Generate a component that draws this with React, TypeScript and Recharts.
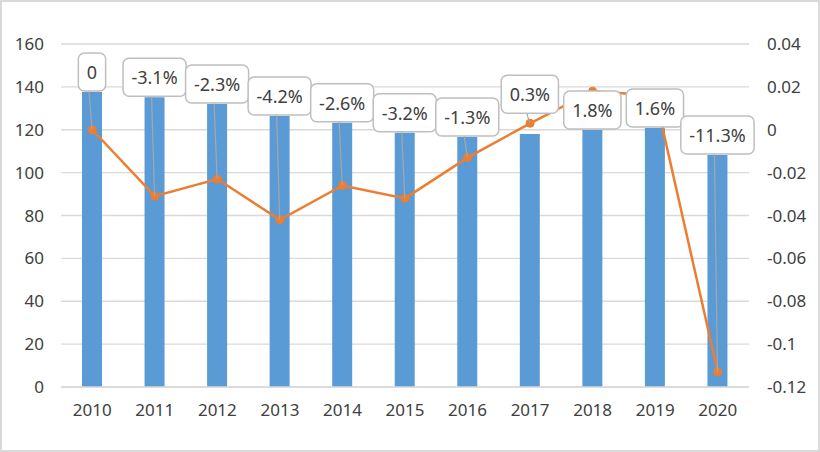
import React from 'react';
import { ComposedChart, Bar, Line, XAxis, YAxis, CartesianGrid, LabelList } from 'recharts';

const years = ['2010', '2011', '2012', '2013', '2014', '2015', '2016', '2017', '2018', '2019', '2020'];
const output = [137.6, 135.2, 132, 126.4, 123.3, 118.6, 116.6, 118, 119.9, 120.8, 108.2];
const growth = [0, -0.031, -0.023, -0.042, -0.026, -0.032, -0.013, 0.003, 0.018, 0.016, -0.113];
const growthLabels = ['0', '-3.1%', '-2.3%', '-4.2%', '-2.6%', '-3.2%', '-1.3%', '0.3%', '1.8%', '1.6%', '-11.3%'];
const leftTicks = [0, 20, 40, 60, 80, 100, 120, 140, 160];
const rightTicks = [-0.12, -0.1, -0.08, -0.06, -0.04, -0.02, 0, 0.02, 0.04];

const LEFT_DOMAIN: [number, number] = [0, 160];
const RIGHT_DOMAIN: [number, number] = [-0.12, 0.04];

const data = years.map((year, i) => ({ year, output: output[i], growth: growth[i] }));

const FONT = 17;
const LABEL_FONT = 18;
const charW: Record<string, number> = { '-': 0.322, '.': 0.268, '%': 0.823 };
const textWidth = (s: string) =>
  s.split('').reduce((acc, c) => acc + (charW[c] ?? 0.572), 0) * LABEL_FONT;

const CalloutLabel = (props: any) => {
  const vb = props.viewBox ?? props;
  const x = Number(vb.x ?? props.x);
  const y = Number(vb.y ?? props.y);
  const width = Number(vb.width ?? props.width);
  const height = Number(vb.height ?? props.height);
  const i = props.index as number;
  if (i == null || isNaN(x)) return null;
  const v = output[i];
  const g = growth[i];
  const H = (height / (v - LEFT_DOMAIN[0])) * (LEFT_DOMAIN[1] - LEFT_DOMAIN[0]);
  const baseline = y + height;
  const top = baseline - H;
  const pointY = top + ((RIGHT_DOMAIN[1] - g) / (RIGHT_DOMAIN[1] - RIGHT_DOMAIN[0])) * H;
  const cx = x + width / 2;
  const label = growthLabels[i];
  const w = textWidth(label) + 17;
  const h = 38;
  let boxBottom = y - 1;
  if (pointY < y && y - pointY < h / 2) boxBottom = pointY - 10;
  const boxTop = boxBottom - h;
  return (
    <g>
      {pointY > boxBottom + 6 && (
        <line x1={cx - 3} y1={boxBottom} x2={cx} y2={pointY} stroke="#A6A6A6" strokeWidth={1.2} />
      )}
      <rect x={cx - w / 2} y={boxTop} width={w} height={h} rx={6} ry={6} fill="#fff" stroke="#BFBFBF" strokeWidth={1.5} />
      <text x={cx} y={boxTop + h / 2} textAnchor="middle" dominantBaseline="central" fontSize={LABEL_FONT} fill="#404040">
        {label}
      </text>
    </g>
  );
};

export default function App() {
  return (
    <div style={{ position: 'absolute', left: 0, top: 0, width: 820, height: 452, background: '#fff', fontFamily: '"Noto Sans", sans-serif' }}>
      <ComposedChart width={820} height={452} data={data} margin={{ top: 44, right: 0, bottom: 35, left: 0 }}>
        <CartesianGrid yAxisId="left" vertical={false} stroke="#D9D9D9" strokeWidth={1.3} />
        <XAxis dataKey="year" interval={0} axisLine={{ stroke: '#D9D9D9', strokeWidth: 1.3 }} tickLine={false} tickSize={0} tickMargin={17} height={30} tick={{ fill: '#404040', fontSize: FONT }} />
        <XAxis xAxisId="lab" dataKey="year" hide />
        <YAxis yAxisId="left" domain={LEFT_DOMAIN} ticks={leftTicks} interval={0} width={61} axisLine={false} tickLine={false} tickSize={0} tickMargin={17} tick={{ fill: '#404040', fontSize: FONT }} />
        <YAxis yAxisId="right" orientation="right" domain={RIGHT_DOMAIN} ticks={rightTicks} interval={0} width={71} axisLine={false} tickLine={false} tickSize={0} tickMargin={18} tick={{ fill: '#404040', fontSize: FONT }} tickFormatter={(v: number) => String(v)} />
        <Bar yAxisId="left" dataKey="output" fill="#5B9BD5" barSize={20} isAnimationActive={false} />
        <Line yAxisId="right" dataKey="growth" stroke="#ED7D31" strokeWidth={2.5} dot={{ r: 4, fill: '#ED7D31', stroke: '#ED7D31', strokeWidth: 1 }} isAnimationActive={false} />
        <Bar xAxisId="lab" yAxisId="left" dataKey="output" fill="none" barSize={20} isAnimationActive={false}>
          <LabelList dataKey="output" content={CalloutLabel} />
        </Bar>
      </ComposedChart>
      <div style={{ position: 'absolute', left: 0, top: 0, width: 820, height: 452, boxSizing: 'border-box', border: '2px solid #D9D9D9', pointerEvents: 'none' }} />
    </div>
  );
}
